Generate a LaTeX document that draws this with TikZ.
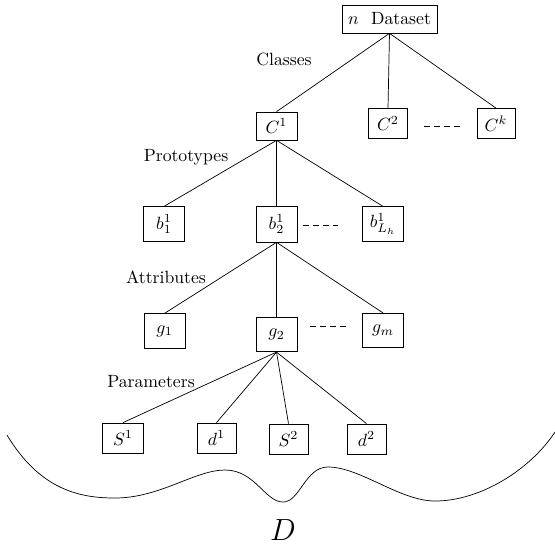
\documentclass[tikz,border=0pt]{standalone}
\begin{document}
\begin{tikzpicture}[x=0.565pt,y=-0.565pt,
  box/.style={draw, inner sep=0pt, minimum width=23pt, minimum height=17pt},
  tall/.style={box, minimum height=19.5pt},
  lbl/.style={inner sep=0pt},
  dots/.style={dash pattern=on 3.4pt off 2.3pt}]
\useasboundingbox (0,0) rectangle (555,545);
% nodes
\node[box, minimum width=53.7pt, minimum height=15.8pt] (ds) at (389.5,19) {$n$\hspace{7pt}Dataset};
\node[box, minimum height=15.8pt] (C1) at (276.5,126) {$C^1$};
\node[box, minimum width=22pt] (C2) at (388,123.5) {$C^2$};
\node[box, minimum width=21.5pt] (Ck) at (496,123.5) {$C^k$};
\node[tall] (b1) at (164,224) {$b_1^1$};
\node[tall, minimum height=20.3pt] (b2) at (276.5,224) {$b_2^1$};
\node[tall] (bL) at (383,224) {$b_{L_h}^1$};
\node[tall] (g1) at (164.5,331) {$g_1$};
\node[tall] (g2) at (276.5,334.5) {$g_2$};
\node[tall] (gm) at (383,330.5) {$g_m$};
\node[box] (S1) at (123,438) {$S^1$};
\node[box, minimum width=22pt] (d1) at (216.5,438) {$d^1$};
\node[box, minimum width=22pt] (S2) at (288.5,439) {$S^2$};
\node[box, minimum width=22pt] (d2) at (366.5,439) {$d^2$};
% labels
\node[lbl] (lc) at (284,59) {Classes};
\node[lbl] (lp) at (186,157) {Prototypes};
\node[lbl] (la) at (166,277) {Attributes};
\node[lbl] (lpa) at (151,382) {Parameters};
\node[lbl] (lD) at (283,530) {\LARGE $D$};
% connectors
\draw (ds.south) -- (C1.north);
\draw (ds.south) -- (C2.north);
\draw (ds.south) -- (Ck.north);
\draw (C1.south) -- (b1.north);
\draw (C1.south) -- (b2.north);
\draw (C1.south) -- (bL.north);
\draw (b2.south) -- (g1.north);
\draw (b2.south) -- (g2.north);
\draw (b2.south) -- (gm.north);
\draw (g2.south) -- (S1.north);
\draw (g2.south) -- (d1.north);
\draw (g2.south) -- (S2.north);
\draw (g2.south) -- (d2.north);
% dashed continuation marks
\coordinate (da1) at (424,126); \coordinate (da2) at (460,126);
\coordinate (db1) at (303,225); \coordinate (db2) at (338,225);
\coordinate (dc1) at (310,326); \coordinate (dc2) at (346,326);
\draw[dots] (da1) -- (da2);
\draw[dots] (db1) -- (db2);
\draw[dots] (dc1) -- (dc2);
% brace
\draw (7,435) .. controls (40,490) and (80,498) .. (115,498)
  .. controls (160,498) and (195,470) .. (225,470)
  .. controls (255,470) and (265,502) .. (283,502)
  .. controls (300,502) and (305,467) .. (328,467)
  .. controls (360,467) and (400,501) .. (435,501)
  .. controls (480,501) and (530,470) .. (555,432);
\end{tikzpicture}
\end{document}
